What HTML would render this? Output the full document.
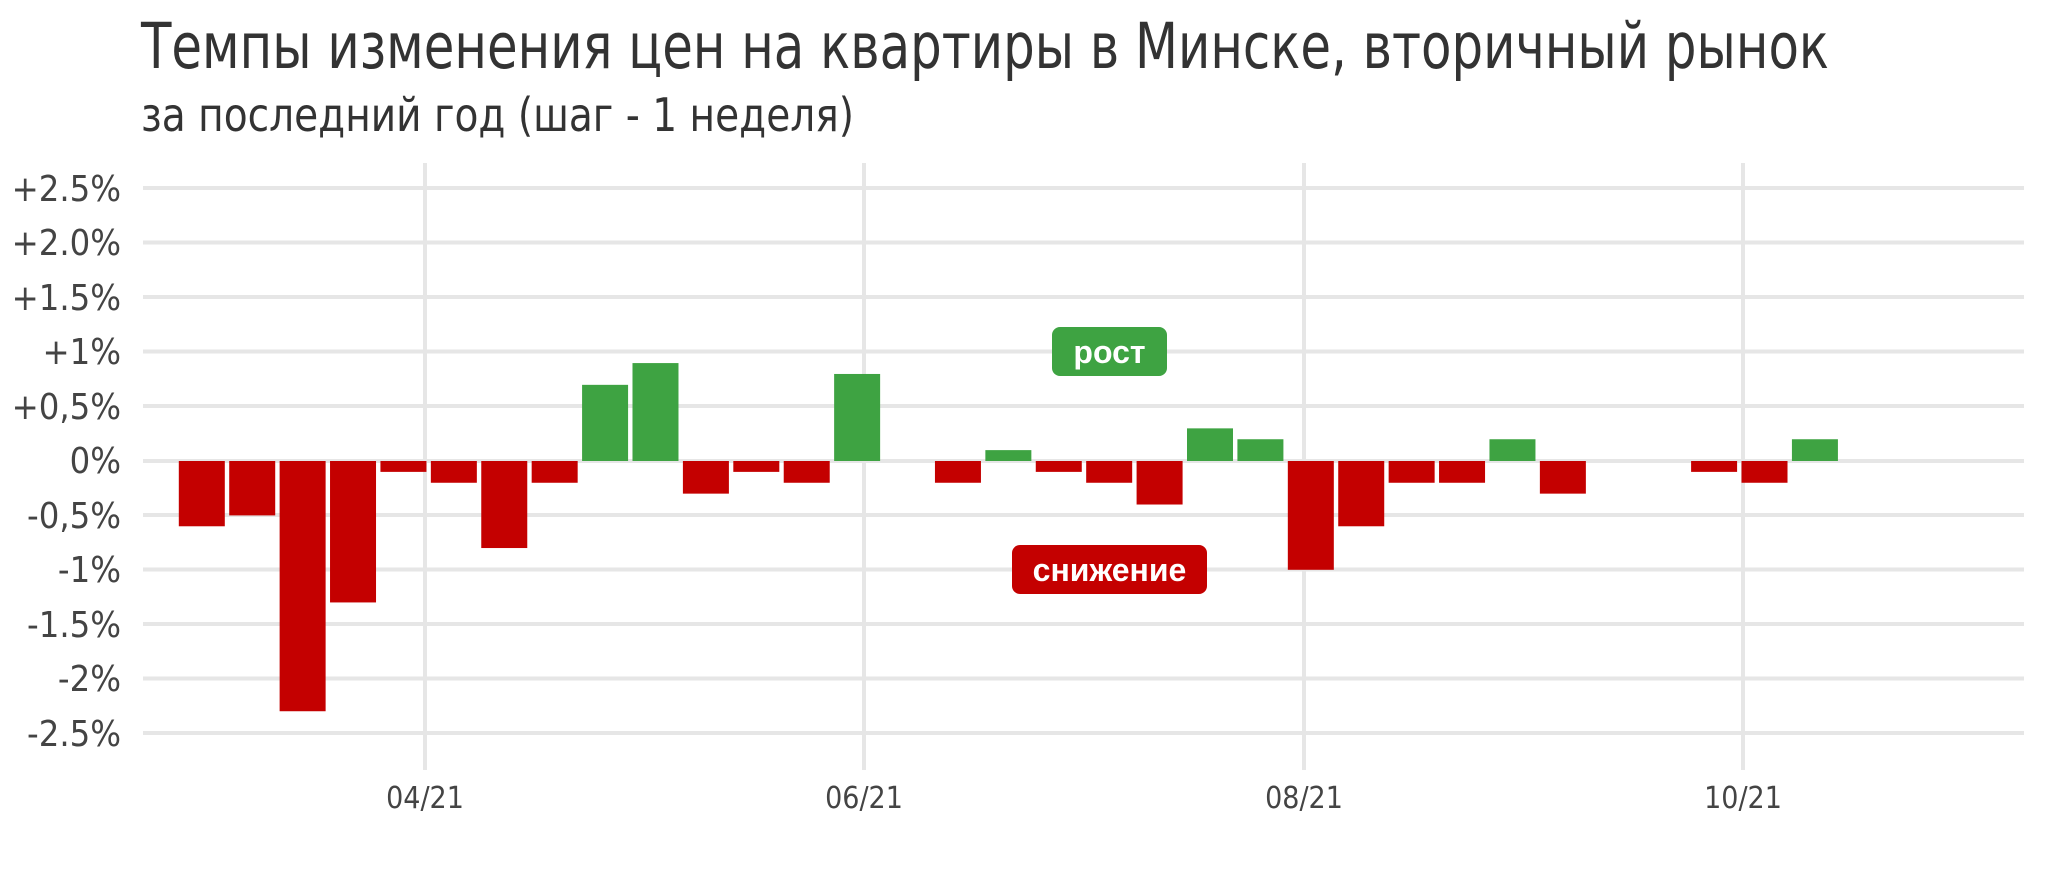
<!DOCTYPE html>
<html><head><meta charset="utf-8"><style>
html,body{margin:0;padding:0;background:#fff;}
svg{display:block;}
</style></head><body>
<svg width="2048" height="878" xmlns="http://www.w3.org/2000/svg" font-family="'DejaVu Sans Condensed','DejaVu Sans','Liberation Sans',sans-serif">
<rect width="2048" height="878" fill="#fff"/>
<text x="141" y="68" font-size="63" fill="#333" textLength="1688" lengthAdjust="spacingAndGlyphs">Темпы изменения цен на квартиры в Минске, вторичный рынок</text>
<text x="141" y="131" font-size="46" fill="#333" textLength="713" lengthAdjust="spacingAndGlyphs">за последний год (шаг - 1 неделя)</text>
<g stroke="#e6e6e6" stroke-width="4">
<line x1="143" x2="2024" y1="188" y2="188"/>
<line x1="143" x2="2024" y1="242.5" y2="242.5"/>
<line x1="143" x2="2024" y1="297" y2="297"/>
<line x1="143" x2="2024" y1="351.5" y2="351.5"/>
<line x1="143" x2="2024" y1="406" y2="406"/>
<line x1="143" x2="2024" y1="461" y2="461"/>
<line x1="143" x2="2024" y1="515" y2="515"/>
<line x1="143" x2="2024" y1="569.5" y2="569.5"/>
<line x1="143" x2="2024" y1="624" y2="624"/>
<line x1="143" x2="2024" y1="678.5" y2="678.5"/>
<line x1="143" x2="2024" y1="733" y2="733"/>
<line x1="425" x2="425" y1="163" y2="770"/>
<line x1="864" x2="864" y1="163" y2="770"/>
<line x1="1304" x2="1304" y1="163" y2="770"/>
<line x1="1743" x2="1743" y1="163" y2="770"/>
</g>
<g font-size="36" fill="#444" text-anchor="end">
<text x="121" y="201">+2.5%</text>
<text x="121" y="255">+2.0%</text>
<text x="121" y="310">+1.5%</text>
<text x="121" y="364">+1%</text>
<text x="121" y="419">+0,5%</text>
<text x="121" y="473">0%</text>
<text x="121" y="528">-0,5%</text>
<text x="121" y="582">-1%</text>
<text x="121" y="637">-1.5%</text>
<text x="121" y="691">-2%</text>
<text x="121" y="746">-2.5%</text>
</g>
<g font-size="30" fill="#444" text-anchor="middle">
<text x="425" y="808">04/21</text>
<text x="864" y="808">06/21</text>
<text x="1304" y="808">08/21</text>
<text x="1743" y="808">10/21</text>
</g>
<g id="bars"></g>
<rect x="1052" y="327" width="115" height="49" rx="8" fill="#3ea342"/>
<text x="1109.5" y="363" font-family="'Liberation Sans',sans-serif" font-weight="bold" font-size="32" fill="#fff" text-anchor="middle">рост</text>
<rect x="1012" y="545" width="195" height="49" rx="8" fill="#c40000"/>
<text x="1109.5" y="581" font-family="'Liberation Sans',sans-serif" font-weight="bold" font-size="32" fill="#fff" text-anchor="middle">снижение</text>
</svg>
<script>
var v=[-0.6,-0.5,-2.3,-1.3,-0.1,-0.2,-0.8,-0.2,0.7,0.9,-0.3,-0.1,-0.2,0.8,null,-0.2,0.1,-0.1,-0.2,-0.4,0.3,0.2,-1.0,-0.6,-0.2,-0.2,0.2,-0.3,null,null,-0.1,-0.2,0.2];
var g=document.getElementById('bars'),s='';
for(var i=0;i<v.length;i++){if(v[i]===null)continue;var c=201.8+50.41*i,h=Math.abs(v[i])*108.8,y=v[i]>0?461-h:461;
s+='<rect x="'+(c-23)+'" y="'+y+'" width="46" height="'+h+'" fill="'+(v[i]>0?'#3ea342':'#c40000')+'"/>';}
g.innerHTML=s;
</script>
</body></html>
